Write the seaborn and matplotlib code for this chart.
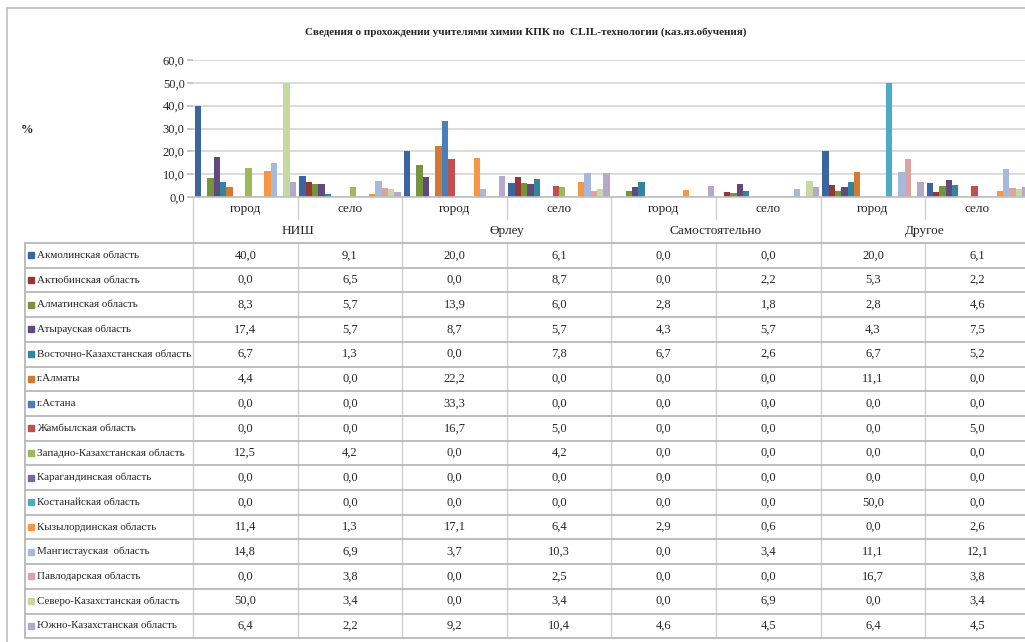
import matplotlib
matplotlib.use("Agg")
import matplotlib.pyplot as plt
import seaborn as sns
import pandas as pd

# chart data: one list per table column (course type / location)
groups = ["НИШ", "Өрлеу", "Самостоятельно", "Другое"]
places = ["город", "село"]

regions = ["Акмолинская область", "Актюбинская область", "Алматинская область",
           "Атырауская область", "Восточно-Казахстанская область", "г.Алматы",
           "г.Астана", "Жамбылская область", "Западно-Казахстанская область",
           "Карагандинская область", "Костанайская область", "Кызылординская область",
           "Мангистауская  область", "Павлодарская область",
           "Северо-Казахстанская область", "Южно-Казахстанская область"]

nish_gorod = [40.0, 0.0, 8.3, 17.4, 6.7, 4.4, 0.0, 0.0, 12.5, 0.0, 0.0, 11.4, 14.8, 0.0, 50.0, 6.4]
nish_selo = [9.1, 6.5, 5.7, 5.7, 1.3, 0.0, 0.0, 0.0, 4.2, 0.0, 0.0, 1.3, 6.9, 3.8, 3.4, 2.2]
orleu_gorod = [20.0, 0.0, 13.9, 8.7, 0.0, 22.2, 33.3, 16.7, 0.0, 0.0, 0.0, 17.1, 3.7, 0.0, 0.0, 9.2]
orleu_selo = [6.1, 8.7, 6.0, 5.7, 7.8, 0.0, 0.0, 5.0, 4.2, 0.0, 0.0, 6.4, 10.3, 2.5, 3.4, 10.4]
sam_gorod = [0.0, 0.0, 2.8, 4.3, 6.7, 0.0, 0.0, 0.0, 0.0, 0.0, 0.0, 2.9, 0.0, 0.0, 0.0, 4.6]
sam_selo = [0.0, 2.2, 1.8, 5.7, 2.6, 0.0, 0.0, 0.0, 0.0, 0.0, 0.0, 0.6, 3.4, 0.0, 6.9, 4.5]
drug_gorod = [20.0, 5.3, 2.8, 4.3, 6.7, 11.1, 0.0, 0.0, 0.0, 0.0, 50.0, 0.0, 11.1, 16.7, 0.0, 6.4]
drug_selo = [6.1, 2.2, 4.6, 7.5, 5.2, 0.0, 0.0, 5.0, 0.0, 0.0, 0.0, 2.6, 12.1, 3.8, 3.4, 4.5]

columns = [nish_gorod, nish_selo, orleu_gorod, orleu_selo,
           sam_gorod, sam_selo, drug_gorod, drug_selo]

colors = ["#3A65A0", "#953735", "#77933C", "#604A7B", "#31859C", "#D07A33",
          "#4A7EBB", "#C0504D", "#9BBB59", "#8064A2", "#4BACC6", "#F79646",
          "#A5B9DC", "#DDA3A2", "#C6D9A0", "#B6A8CC"]

# long table for seaborn
cat_keys = [g + " " + p for g in groups for p in places]
rows = []
for key, col in zip(cat_keys, columns):
    for reg, v in zip(regions, col):
        rows.append({"cat": key, "region": reg, "val": v})
df = pd.DataFrame(rows)

sns.set_theme(style="white")
plt.rcParams["font.family"] = ["Liberation Serif", "DejaVu Serif"]

W, H = 1025, 642
fig = plt.figure(figsize=(W / 100, H / 100), dpi=100)

# overlay in pixel coords for the frame, the table and the texts
ov = fig.add_axes([0, 0, 1, 1])
ov.set_xlim(0, W)
ov.set_ylim(H, 0)
ov.axis("off")

x0, cw = 193, 104.6
y0, ytop = 197, 60
ax = fig.add_axes([x0 / W, 1 - y0 / H, 8 * cw / W, (y0 - ytop) / H])
ax.patch.set_alpha(0)

sns.barplot(data=df, x="cat", y="val", hue="region", order=cat_keys,
            hue_order=regions, palette=colors, width=0.97, saturation=1,
            linewidth=0, legend=False, ax=ax)

ax.set_xlim(-0.5, 7.5)
ax.set_ylim(0, 60)
ax.set_yticks(range(0, 61, 10))
ax.set_yticklabels([f"{v:.1f}".replace(".", ",") for v in range(0, 61, 10)])
ax.set_xticks([])
ax.set_xlabel("")
ax.set_ylabel("")
ax.yaxis.grid(True, color="#D9D9D9", linewidth=1.3)
ax.set_axisbelow(True)
ax.tick_params(axis="y", length=4, color="#BFBFBF", labelsize=9, pad=2, left=True)
for s in ["top", "right", "left"]:
    ax.spines[s].set_visible(False)
ax.spines["bottom"].set_color("#BFBFBF")
ax.spines["bottom"].set_linewidth(1.2)

# frame
lc = "#BFBFBF"
ov.plot([7, W], [8, 8], color=lc, lw=1.2)
ov.plot([7, 7], [8, H], color=lc, lw=1.2)

ov.text(526, 32, "Сведения о прохождении учителями химии КПК по  CLIL-технологии (каз.яз.обучения)",
        ha="center", va="center", fontsize=8, fontweight="bold")
ov.text(27, 130, "%", ha="center", va="center", fontsize=9, fontweight="bold")

# table below the plot
t0, rh = 243, 24.7
tb = t0 + rh * len(regions)
for k in range(9):
    x = x0 + k * cw
    if k % 2 == 0:
        ov.plot([x, x], [y0, tb], color="#D0D0D0", lw=1)
    else:
        ov.plot([x, x], [y0, 219], color="#D0D0D0", lw=1)
        ov.plot([x, x], [t0, tb], color="#D0D0D0", lw=1)
for i in range(len(regions) + 1):
    ov.plot([25, W], [t0 + i * rh, t0 + i * rh], color="#B8B8B8", lw=1.3)
ov.plot([25, 25], [t0, tb], color="#B8B8B8", lw=1.3)

for j, key in enumerate(cat_keys):
    ov.text(x0 + (j + 0.5) * cw, 209, places[j % 2], ha="center", va="center", fontsize=9.5)
for g, name in enumerate(groups):
    ov.text(x0 + (2 * g + 1) * cw, 231, name, ha="center", va="center", fontsize=9.5)

for i, reg in enumerate(regions):
    yc = t0 + (i + 0.5) * rh
    ov.plot(31, yc, marker="s", markersize=4, color=colors[i], linestyle="none")
    ov.text(37, yc, reg, ha="left", va="center", fontsize=7.9)
    for j, col in enumerate(columns):
        ov.text(x0 + (j + 0.5) * cw, yc, f"{col[i]:.1f}".replace(".", ","),
                ha="center", va="center", fontsize=9)

fig.savefig("out.png", dpi=100)
